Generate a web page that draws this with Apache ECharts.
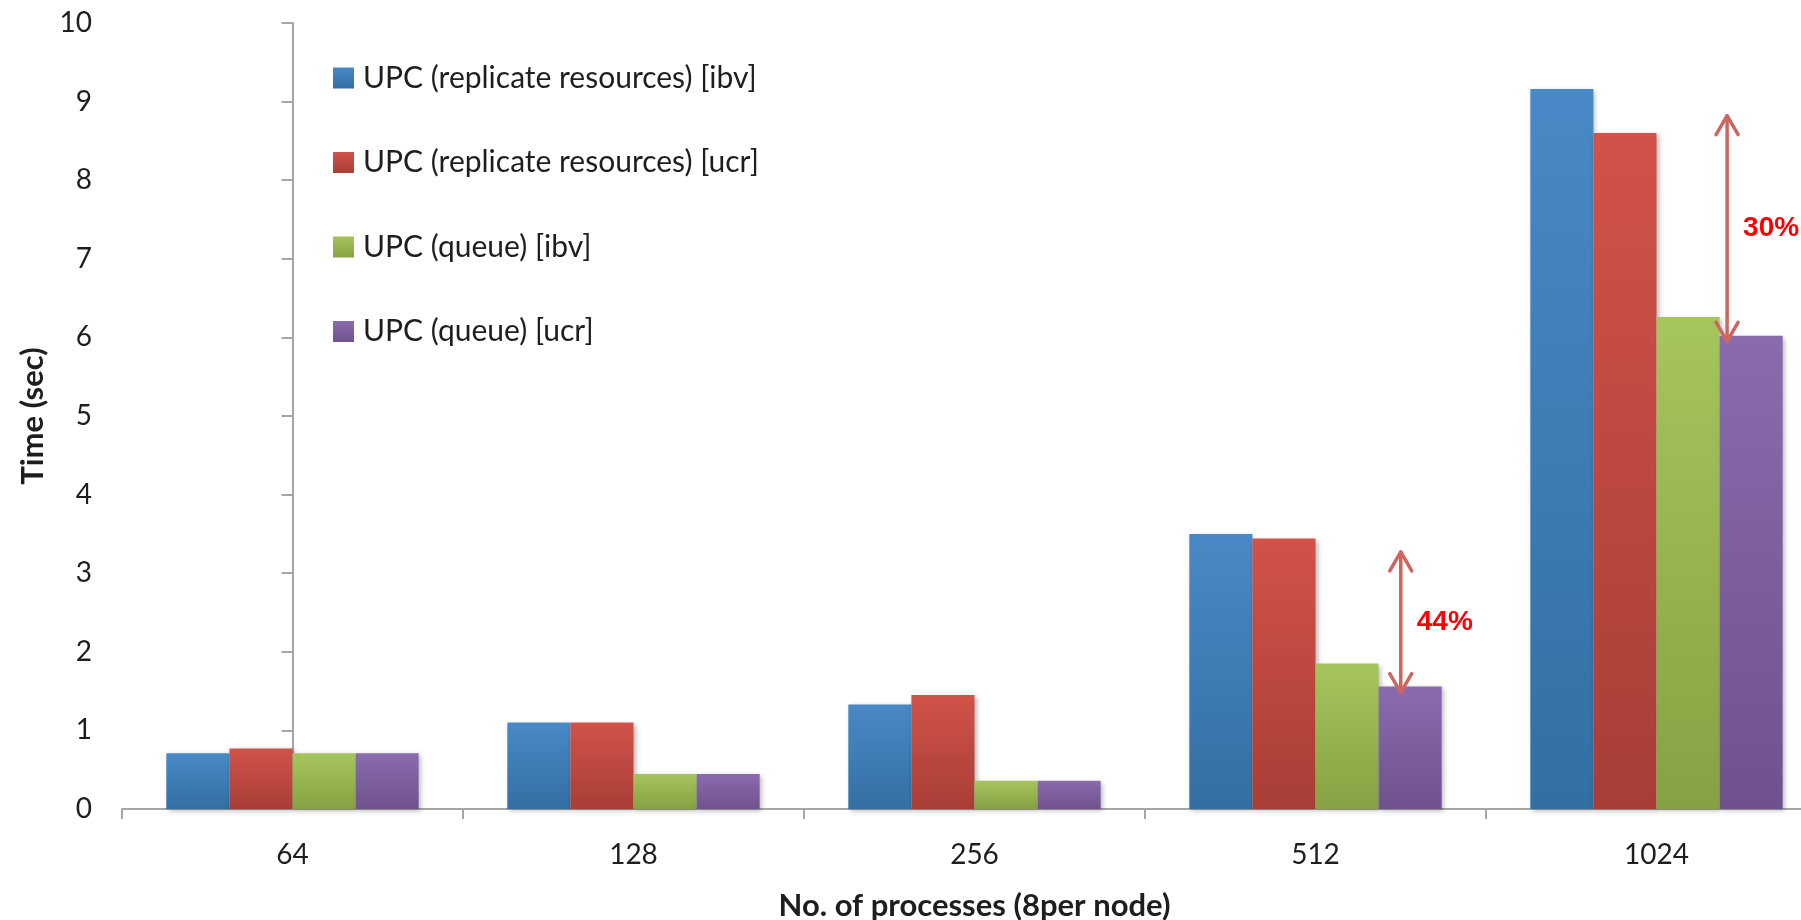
<!DOCTYPE html>
<html>
<head>
<meta charset="utf-8">
<script src="https://cdn.jsdelivr.net/npm/echarts@6/dist/echarts.min.js"></script>
<style>
  html, body { margin: 0; padding: 0; background: #fff; }
  #chart { width: 1801px; height: 920px; }
</style>
</head>
<body>
<div id="chart"></div>
<script>
// processes
const categories = ['64', '128', '256', '512', '1024'];
const yTicks = [0, 10]; // min / max of time axis

// time (sec) for each variant
const replicateIbv = [0.71, 1.10, 1.33, 3.50, 9.16];
const replicateUcr = [0.77, 1.10, 1.45, 3.44, 8.60];
const queueIbv = [0.71, 0.445, 0.36, 1.85, 6.26];
const queueUcr = [0.71, 0.445, 0.36, 1.56, 6.02];

const seriesNames = [
  'UPC (replicate resources) [ibv]',
  'UPC (replicate resources) [ucr]',
  'UPC (queue) [ibv]',
  'UPC (queue) [ucr]'
];

// improvement arrows (x in category index units)
const arrowX = [3.25, 4.207];
const arrowTop = [3.27, 8.82];
const arrowBottom = [1.48, 5.95];
const arrowText = ['44%', '30%'];

const FONT = 'Lato';
const TXT = '#1e1e1e';

const grad = (top, bottom) => new echarts.graphic.LinearGradient(0, 0, 0, 1, [
  { offset: 0, color: top },
  { offset: 1, color: bottom }
]);

const colors = [
  ['#4889c7', '#326fa3'],
  ['#d15349', '#a83e36'],
  ['#a5c55e', '#86a142'],
  ['#8a6bad', '#6f528d']
];

const chart = echarts.init(document.getElementById('chart'));

const barSeries = [replicateIbv, replicateUcr, queueIbv, queueUcr].map((vals, i) => ({
  name: seriesNames[i],
  type: 'bar',
  data: vals,
  barGap: '0%',
  barCategoryGap: '26%',
  itemStyle: {
    color: grad(colors[i][0], colors[i][1]),
    shadowColor: 'rgba(0,0,0,0.28)',
    shadowBlur: 5,
    shadowOffsetX: 2,
    shadowOffsetY: 2
  }
}));

const arrowData = arrowX.map((x, i) => [x, arrowTop[i], arrowBottom[i], arrowText[i]]);

const arrowSeries = {
  type: 'custom',
  xAxisIndex: 1,
  yAxisIndex: 0,
  data: arrowData,
  silent: true,
  z: 10,
  renderItem: (params, api) => {
    const x = api.value(0);
    const top = api.coord([x, api.value(1)]);
    const bot = api.coord([x, api.value(2)]);
    const label = arrowData[params.dataIndex][3];
    const st = { stroke: '#cd6660', lineWidth: 3.5, fill: null, lineCap: 'round', lineJoin: 'round' };
    const hw = 11, hh = 19;
    return {
      type: 'group',
      children: [
        { type: 'line', shape: { x1: top[0], y1: top[1], x2: bot[0], y2: bot[1] }, style: st },
        { type: 'polyline', shape: { points: [[top[0] - hw, top[1] + hh], [top[0], top[1]], [top[0] + hw, top[1] + hh]] }, style: st },
        { type: 'polyline', shape: { points: [[bot[0] - hw, bot[1] - hh], [bot[0], bot[1]], [bot[0] + hw, bot[1] - hh]] }, style: st },
        {
          type: 'text',
          x: top[0] + 16,
          y: (top[1] + bot[1]) / 2,
          style: {
            text: label,
            fill: '#ff0000',
            font: 'bold 28px "Liberation Sans", Arial, sans-serif',
            textAlign: 'left',
            textVerticalAlign: 'middle'
          }
        }
      ]
    };
  }
};

chart.setOption({
  animation: false,
  textStyle: { fontFamily: FONT },
  // plot area runs a little past the right edge, like the original
  grid: { left: 122, width: 1705, top: 23, bottom: 111, containLabel: false, outerBoundsMode: 'none' },
  legend: {
    orient: 'vertical',
    left: 328,
    top: 58,
    itemWidth: 21,
    itemHeight: 21,
    itemGap: 54.5,
    icon: 'rect',
    data: seriesNames,
    textStyle: { fontFamily: FONT, fontSize: 30, color: TXT, padding: [0, 0, 0, 4] }
  },
  xAxis: [
    {
      type: 'category',
      data: categories,
      name: 'No. of processes (8per node)',
      nameLocation: 'middle',
      nameGap: 81,
      nameTextStyle: { fontFamily: FONT, fontSize: 31, fontWeight: 'bold', color: TXT },
      axisLine: { lineStyle: { color: '#a6a6a6', width: 2 } },
      axisTick: { show: true, length: 10, lineStyle: { color: '#a6a6a6', width: 2 } },
      axisLabel: { margin: 32, fontSize: 28, color: TXT, fontFamily: FONT }
    },
    {
      type: 'value',
      min: -0.5,
      max: 4.5,
      show: false
    }
  ],
  yAxis: {
    type: 'value',
    min: yTicks[0],
    max: yTicks[1],
    interval: 1,
    name: 'Time (sec)',
    nameLocation: 'middle',
    nameGap: 74,
    nameRotate: 90,
    nameTextStyle: { fontFamily: FONT, fontSize: 31, fontWeight: 'bold', color: TXT },
    splitLine: { show: false },
    axisLine: { show: true, lineStyle: { color: '#a6a6a6', width: 2 } },
    axisTick: { show: true, length: 11, lineStyle: { color: '#a6a6a6', width: 2 } },
    axisLabel: { margin: 30, fontSize: 28, color: TXT, fontFamily: FONT }
  },
  series: [...barSeries, arrowSeries]
});
</script>
</body>
</html>
